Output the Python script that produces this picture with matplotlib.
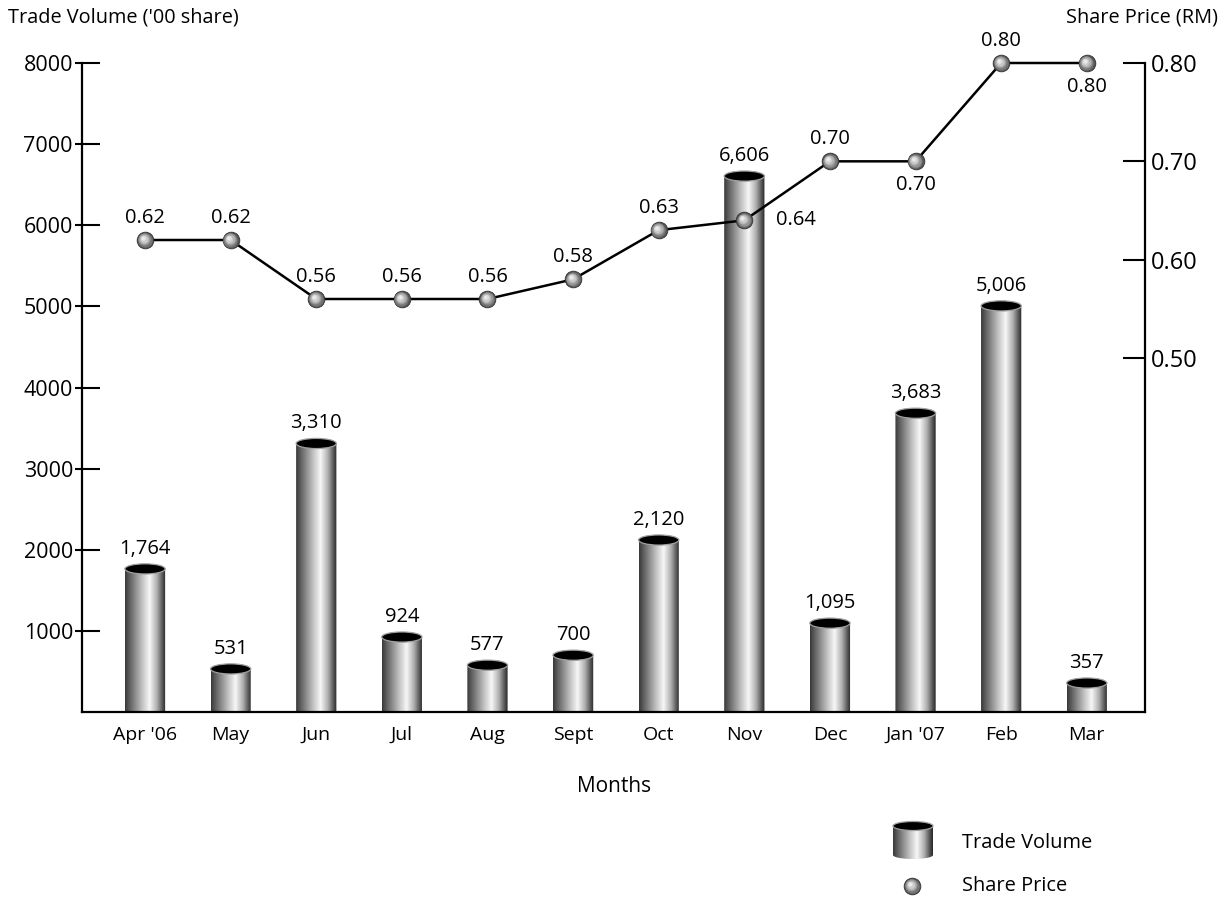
import matplotlib.pyplot as plt
import numpy as np
from matplotlib.colors import LinearSegmentedColormap
from matplotlib.patches import Ellipse, PathPatch
from matplotlib.path import Path
from matplotlib.ticker import FixedLocator
from matplotlib.transforms import offset_copy

plt.rcParams['font.family'] = ['Open Sans', 'DejaVu Sans']

months = ["Apr '06", 'May', 'Jun', 'Jul', 'Aug', 'Sept', 'Oct', 'Nov', 'Dec', "Jan '07", 'Feb', 'Mar']
volume = [1764, 531, 3310, 924, 577, 700, 2120, 6606, 1095, 3683, 5006, 357]
price = [0.62, 0.62, 0.56, 0.56, 0.56, 0.58, 0.63, 0.64, 0.70, 0.70, 0.80, 0.80]
# where each price label sits relative to its point (points)
price_offsets = [(0, 16), (0, 16), (0, 16), (0, 16), (0, 16), (0, 16), (0, 16),
                 (37, 0), (0, 16), (0, -17), (0, 16), (0, -17)]
vol_ticks = [1000, 2000, 3000, 4000, 5000, 6000, 7000, 8000]
price_ticks = [0.50, 0.60, 0.70, 0.80]

W, H = 1228, 899
fig = plt.figure(figsize=(W / 100, H / 100), dpi=100)
ax = fig.add_axes([82 / W, 1 - 712 / H, (1145 - 82) / W, (712 - 63) / H])

cyl = LinearSegmentedColormap.from_list('cyl', [
    (0.0, '#383838'), (0.12, '#626262'), (0.42, '#c2c2c2'), (0.6, '#f7f7f7'),
    (0.78, '#b0b0b0'), (0.92, '#555555'), (1.0, '#262626')])
grad = np.linspace(0, 1, 256).reshape(1, -1)

bar_w = 0.47
cap_h = 125  # ellipse height in volume units


def cylinder(a, xc, h, w, eh):
    x0, x1 = xc - w / 2, xc + w / 2
    t = np.linspace(np.pi, 2 * np.pi, 40)
    bottom = np.column_stack([xc + w / 2 * np.cos(t), eh / 2 * np.sin(t)])
    verts = np.vstack([[x0, h], bottom, [x1, h], [x0, h]])
    codes = [Path.MOVETO] + [Path.LINETO] * (len(verts) - 2) + [Path.CLOSEPOLY]
    clip = PathPatch(Path(verts, codes), transform=a.transData, fc='none', ec='none')
    a.add_patch(clip)
    im = a.imshow(grad, extent=[x0, x1, -eh / 2, h], aspect='auto', cmap=cyl,
                  zorder=2, interpolation='bilinear')
    im.set_clip_path(clip)
    a.add_patch(Ellipse((xc, h), w, eh, fc='black', ec='#a0a0a0', lw=0.9, zorder=3))


x = np.arange(len(months))
for xi, v in zip(x, volume):
    cylinder(ax, xi, v, bar_w, cap_h)
    ax.annotate(f'{v:,}', (xi, v), xytext=(0, 14.5), textcoords='offset points',
                ha='center', va='center', fontsize=14.5)

ax.set_xlim(-0.736, 11.68)
ax.set_ylim(0, 8000)
ax.set_xticks(x)
ax.set_xticklabels(months, fontsize=14)
ax.tick_params(axis='x', length=0, pad=10)
ax.set_yticks(vol_ticks)
ax.set_yticklabels([str(t) for t in vol_ticks], fontsize=15.5)
ax.tick_params(axis='y', direction='in', length=13, width=1.5, pad=6.5)
# short outward stubs on the left ticks
ax.yaxis.set_minor_locator(FixedLocator(vol_ticks))
ax.yaxis.remove_overlapping_locs = False
ax.tick_params(axis='y', which='minor', direction='out', length=5, width=1.5)
for s in ['top', 'right']:
    ax.spines[s].set_visible(False)
for s in ['left', 'bottom']:
    ax.spines[s].set_linewidth(1.6)

ax2 = ax.twinx()
ax2.set_ylim(0.14, 0.80)
ax2.set_yticks(price_ticks)
ax2.set_yticklabels([f'{p:.2f}' for p in price_ticks], fontsize=17)
ax2.tick_params(axis='y', direction='in', length=16, width=1.5, pad=4)
for s in ['top', 'left', 'bottom']:
    ax2.spines[s].set_visible(False)
ax2.spines['right'].set_linewidth(1.6)

ax2.plot(x, price, color='black', lw=1.8, zorder=3, clip_on=False)


def spheres(a, xs, ys, size=12, zorder=4):
    a.scatter(xs, ys, s=size ** 2, c='#555555', edgecolors='#333333', linewidths=0.6,
              zorder=zorder, clip_on=False)
    layers = [('#767676', 0.86), ('#969696', 0.72), ('#b3b3b3', 0.58),
              ('#cbcbcb', 0.44), ('#dfdfdf', 0.3), ('#efefef', 0.16)]
    for i, (col, f) in enumerate(layers):
        shift = (1 - f) * size * 0.16
        tr = offset_copy(a.transData, fig=fig, x=-shift, y=shift, units='points')
        a.scatter(xs, ys, s=(size * f) ** 2, c=col, linewidths=0, transform=tr,
                  zorder=zorder + 0.01 * (i + 1), clip_on=False)


spheres(ax2, x, price)
for xi, p, off in zip(x, price, price_offsets):
    ax2.annotate(f'{p:.2f}', (xi, p), xytext=off, textcoords='offset points',
                 ha='center', va='center', fontsize=14.5)

fig.text(8 / W, 1 - 17 / H, "Trade Volume ('00 share)", fontsize=14.3, va='center', ha='left')
fig.text(1218 / W, 1 - 17 / H, 'Share Price (RM)', fontsize=14.3, va='center', ha='right')
fig.text(614 / W, 1 - 787 / H, 'Months', fontsize=15, va='center', ha='center')

# legend drawn by hand in pixel coordinates
lg = fig.add_axes([880 / W, 0, 240 / W, 90 / H])
lg.axis('off')
x0, x1, top, bot = 893, 933, 826, 855
t = np.linspace(0, np.pi, 40)
bottom = np.column_stack([913 + 20 * np.cos(t), bot + 4 * np.sin(t)])
verts = np.vstack([[x1, top], bottom, [x0, top], [x1, top]])
clip = PathPatch(Path(verts), transform=lg.transData, fc='none', ec='none')
lg.add_patch(clip)
im = lg.imshow(grad, extent=[x0, x1, bot + 4, top], aspect='auto', cmap=cyl,
               interpolation='bilinear')
im.set_clip_path(clip)
lg.add_patch(Ellipse((913, top), 40, 9, fc='black', ec='#a0a0a0', lw=0.9, zorder=3))
lg.set_xlim(880, 1120)
lg.set_ylim(899, 809)
spheres(lg, [912], [886])
lg.text(962, 843, 'Trade Volume', fontsize=14.4, va='center', ha='left')
lg.text(962, 886, 'Share Price', fontsize=14.4, va='center', ha='left')

fig.savefig('out.png', dpi=100)
